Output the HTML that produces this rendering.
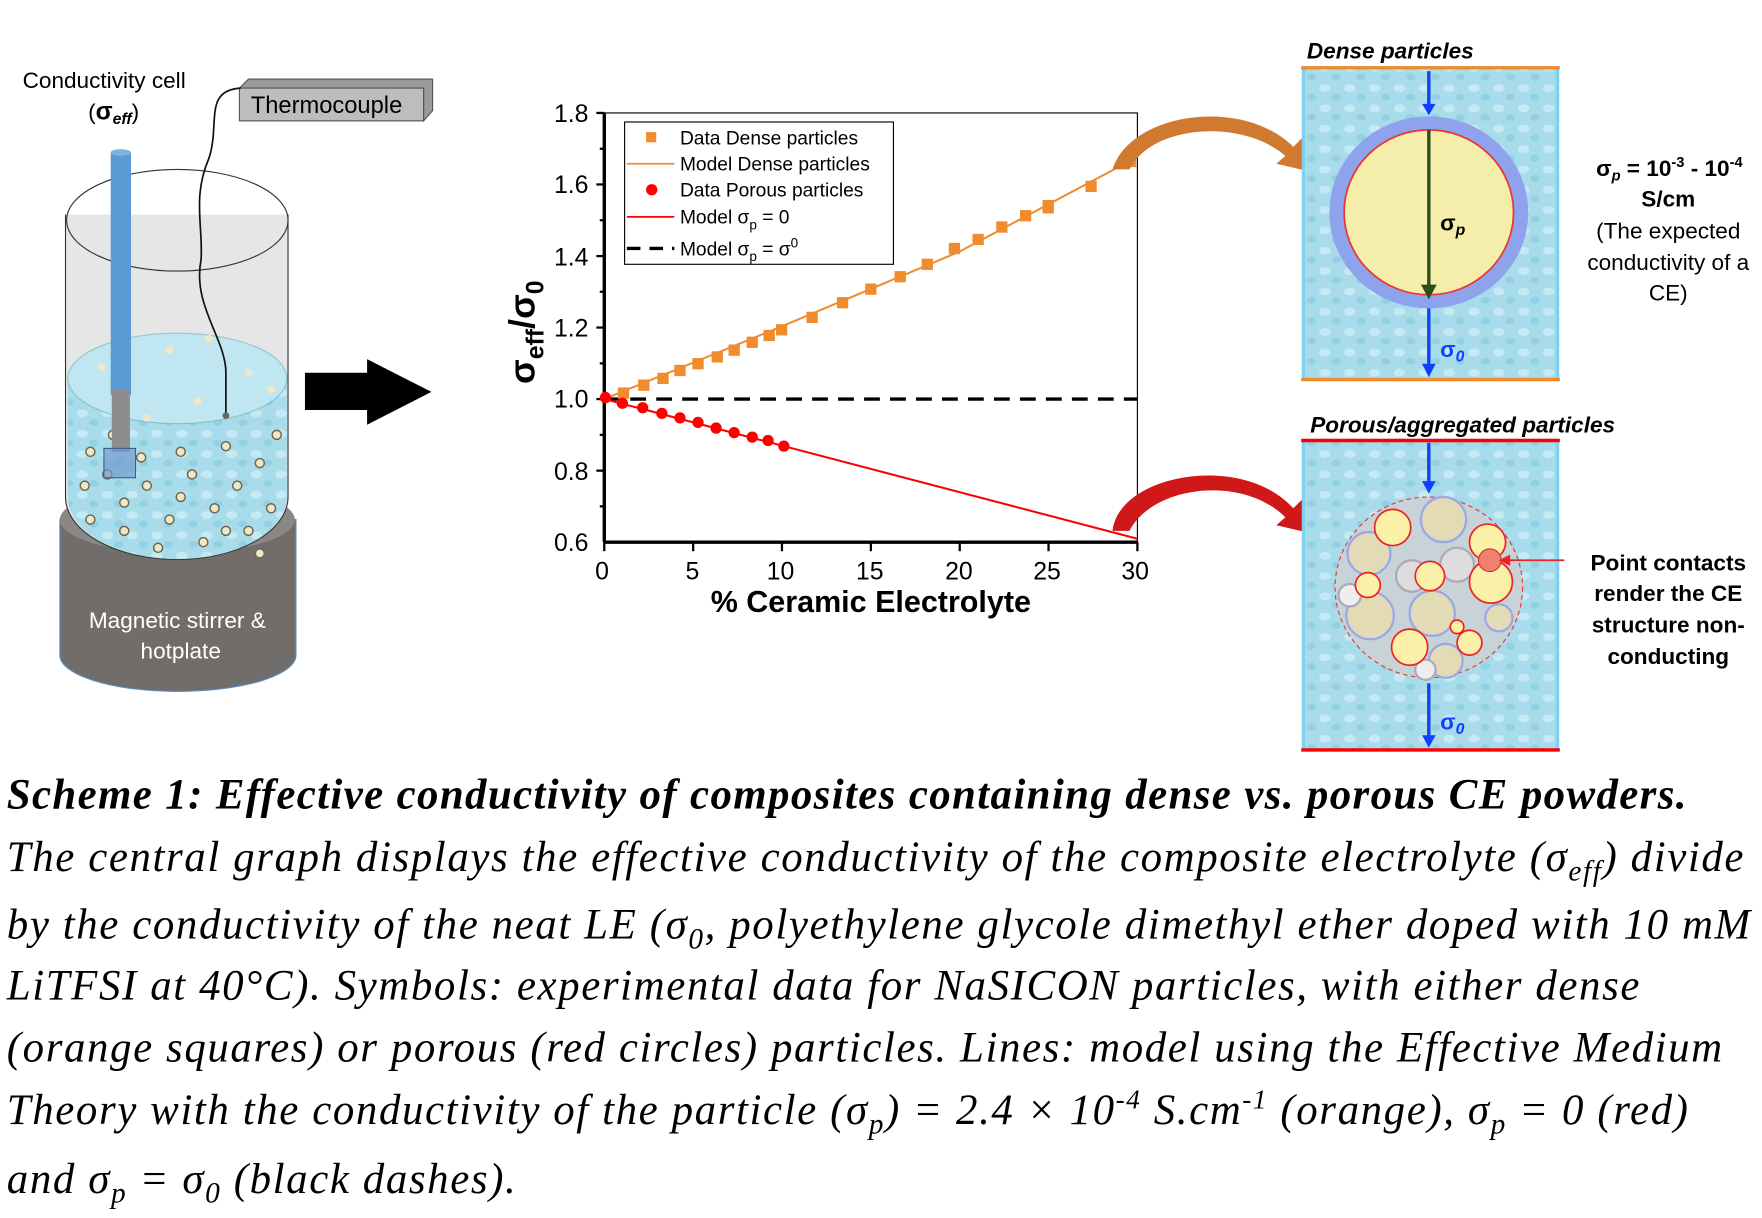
<!DOCTYPE html>
<html><head><meta charset="utf-8"><style>
html,body{margin:0;padding:0;background:#fff;width:1762px;height:1217px;overflow:hidden}
#w{position:absolute;left:0;top:0;width:1560px;height:1078px;transform:scale(1.1295);transform-origin:0 0}
svg text{font-family:"Liberation Sans",sans-serif}
.cap{position:absolute;left:6px;font-family:"Liberation Serif",serif;font-style:italic;font-size:38px;letter-spacing:1.4px;white-space:nowrap;color:#000}
</style></head><body><div id="w">
<svg width="1560" height="680" viewBox="0 0 1560 680" style="position:absolute;left:0;top:0">
<defs>
<pattern id="wat" width="22" height="18" patternUnits="userSpaceOnUse"><rect width="22" height="18" fill="#a9dcea"/><ellipse cx="7" cy="6" rx="5" ry="3.5" fill="#c6eaf3"/><ellipse cx="17" cy="14" rx="4" ry="3" fill="#92d0e2"/></pattern>
</defs>
<text x="20" y="78" font-size="20">Conductivity cell</text>
<text x="78" y="106" font-size="20">(<tspan font-weight="bold" font-size="22">σ</tspan><tspan font-size="14" font-style="italic" font-weight="bold" dy="4">eff</tspan><tspan dy="-4">)</tspan></text>
<polygon points="212,78 220,70 383,70 383,98 375,107 375,78" fill="#9a9a9a" stroke="#555"/>
<rect x="212" y="78" width="163" height="29" fill="#bdbdbd" stroke="#555"/>
<text x="222" y="100" font-size="21">Thermocouple</text>
<path d="M53,460 L53,580 A104,32 0 0 0 262,580 L262,460 Z" fill="#716d6b" stroke="#5a8fc0"/>
<ellipse cx="157" cy="460" rx="104" ry="30" fill="#8a8886"/>
<path d="M58,190 L58,440 A98,55 0 0 0 255,440 L255,190" fill="#e6e6e6" stroke="#333"/>
<path d="M60,335 L60,440 A97,55 0 0 0 254,440 L254,335 Z" fill="url(#wat)"/>
<ellipse cx="157" cy="335" rx="97" ry="40" fill="#bfe6f1" stroke="#5aa" stroke-opacity=".5"/>
<ellipse cx="157" cy="195" rx="98" ry="45" fill="none" stroke="#333"/>
<g fill="#efe8c8" stroke="#6d6650" stroke-width="1.3">
<circle cx="80" cy="400" r="4"/><circle cx="95" cy="420" r="4"/><circle cx="110" cy="445" r="4"/><circle cx="130" cy="430" r="4"/><circle cx="150" cy="460" r="4"/><circle cx="170" cy="420" r="4"/><circle cx="190" cy="450" r="4"/><circle cx="210" cy="430" r="4"/><circle cx="230" cy="410" r="4"/><circle cx="240" cy="450" r="4"/><circle cx="180" cy="480" r="4"/><circle cx="140" cy="485" r="4"/><circle cx="110" cy="470" r="4"/><circle cx="80" cy="460" r="4"/><circle cx="220" cy="470" r="4"/><circle cx="160" cy="400" r="4"/><circle cx="200" cy="395" r="4"/><circle cx="245" cy="385" r="4"/><circle cx="75" cy="430" r="4"/><circle cx="125" cy="405" r="4"/><circle cx="160" cy="440" r="4"/><circle cx="200" cy="470" r="4"/><circle cx="100" cy="385" r="4"/><circle cx="230" cy="490" r="4"/>
<circle cx="150" cy="310" r="3.5" stroke="none"/><circle cx="185" cy="300" r="3.5" stroke="none"/><circle cx="220" cy="330" r="3.5" stroke="none"/><circle cx="90" cy="325" r="3.5" stroke="none"/><circle cx="175" cy="355" r="3.5" stroke="none"/><circle cx="130" cy="370" r="3.5" stroke="none"/><circle cx="240" cy="345" r="3.5" stroke="none"/>
</g>
<rect x="98" y="135" width="18" height="215" fill="#5b9bd5"/><ellipse cx="107" cy="135" rx="9" ry="3" fill="#7fb2e0"/>
<rect x="99" y="345" width="16" height="55" fill="#8c8c8c"/>
<rect x="92" y="397" width="28" height="26" fill="#6f99cc" fill-opacity=".7" stroke="#3a5f8f"/>
<path d="M213,78 C180,80 195,110 185,140 C170,175 180,200 178,230 C170,270 200,300 200,330 L200,368" fill="none" stroke="#111" stroke-width="1.5"/>
<circle cx="200" cy="368" r="3" fill="#666"/>
<text x="157" y="556" font-size="20" fill="#fff" text-anchor="middle">Magnetic stirrer &amp;</text>
<text x="160" y="583" font-size="20" fill="#fff" text-anchor="middle">hotplate</text>
<polygon points="270,330 325,330 325,318 382,347 325,376 325,363 270,363" fill="#000"/>
<g font-size="22">
<rect x="535" y="100" width="472" height="380" fill="none" stroke="#000" stroke-width="1"/>
<line x1="535" y1="100" x2="535" y2="480" stroke="#000" stroke-width="3"/>
<line x1="535" y1="480" x2="1007" y2="480" stroke="#000" stroke-width="3"/>
<g stroke="#000" stroke-width="2">
<line x1="528" y1="100" x2="535" y2="100"/><line x1="528" y1="163.3" x2="535" y2="163.3"/><line x1="528" y1="226.7" x2="535" y2="226.7"/><line x1="528" y1="290" x2="535" y2="290"/><line x1="528" y1="353.3" x2="535" y2="353.3"/><line x1="528" y1="416.7" x2="535" y2="416.7"/>
<line x1="531" y1="131.7" x2="535" y2="131.7"/><line x1="531" y1="195" x2="535" y2="195"/><line x1="531" y1="258.3" x2="535" y2="258.3"/><line x1="531" y1="321.7" x2="535" y2="321.7"/><line x1="531" y1="385" x2="535" y2="385"/><line x1="531" y1="448.3" x2="535" y2="448.3"/>
<line x1="535" y1="480" x2="535" y2="488"/><line x1="613.7" y1="480" x2="613.7" y2="488"/><line x1="692.3" y1="480" x2="692.3" y2="488"/><line x1="771" y1="480" x2="771" y2="488"/><line x1="849.7" y1="480" x2="849.7" y2="488"/><line x1="928.3" y1="480" x2="928.3" y2="488"/><line x1="1007" y1="480" x2="1007" y2="488"/>
</g>
<g text-anchor="end"><text x="521" y="108">1.8</text><text x="521" y="171">1.6</text><text x="521" y="235">1.4</text><text x="521" y="298">1.2</text><text x="521" y="361">1.0</text><text x="521" y="425">0.8</text><text x="521" y="488">0.6</text></g>
<g text-anchor="middle"><text x="533" y="513">0</text><text x="613" y="513">5</text><text x="691" y="513">10</text><text x="770" y="513">15</text><text x="849" y="513">20</text><text x="927" y="513">25</text><text x="1005" y="513">30</text></g>
<text x="771" y="542" font-size="27" font-weight="bold" text-anchor="middle">% Ceramic Electrolyte</text>
<text transform="translate(473,340) rotate(-90)" font-size="32" font-weight="bold">σ<tspan font-size="22" dy="8">eff</tspan><tspan dy="-8">/σ</tspan><tspan font-size="22" dy="8">0</tspan></text>
<line x1="535" y1="353.3" x2="1007" y2="353.3" stroke="#000" stroke-width="3" stroke-dasharray="14,9"/>
<polyline points="535,353.3 692,289 849,223 1007,139" fill="none" stroke="#f08c2e" stroke-width="1.8"/>
<line x1="535" y1="353.3" x2="1007" y2="477" stroke="#f00" stroke-width="1.8"/>
<g fill="#f08c2e">
<rect x="547" y="343" width="10" height="10"/><rect x="565" y="336" width="10" height="10"/><rect x="582" y="330" width="10" height="10"/><rect x="597" y="323" width="10" height="10"/><rect x="613" y="317" width="10" height="10"/><rect x="630" y="311" width="10" height="10"/><rect x="645" y="305" width="10" height="10"/><rect x="661" y="298" width="10" height="10"/><rect x="676" y="292" width="10" height="10"/><rect x="687" y="287" width="10" height="10"/><rect x="714" y="276" width="10" height="10"/><rect x="741" y="263" width="10" height="10"/><rect x="766" y="251" width="10" height="10"/><rect x="792" y="240" width="10" height="10"/><rect x="816" y="229" width="10" height="10"/><rect x="840" y="215" width="10" height="10"/><rect x="861" y="207" width="10" height="10"/><rect x="882" y="196" width="10" height="10"/><rect x="903" y="186" width="10" height="10"/><rect x="923" y="177" width="10" height="12"/><rect x="961" y="160" width="10" height="10"/><rect x="996" y="138" width="10" height="10"/>
</g>
<g fill="#f00">
<circle cx="536" cy="352" r="5"/><circle cx="551" cy="357" r="5"/><circle cx="569" cy="361" r="5"/><circle cx="586" cy="366" r="5"/><circle cx="602" cy="370" r="5"/><circle cx="618" cy="374" r="5"/><circle cx="634" cy="379" r="5"/><circle cx="650" cy="383" r="5"/><circle cx="666" cy="387" r="5"/><circle cx="680" cy="390" r="5"/><circle cx="694" cy="395" r="5"/>
</g>
<rect x="553" y="108" width="238" height="126" fill="#fff" stroke="#000"/>
<g font-size="17">
<rect x="572" y="117" width="9" height="9" fill="#f08c2e"/><text x="602" y="128">Data Dense particles</text>
<line x1="555" y1="145" x2="597" y2="145" stroke="#f08c2e" stroke-width="1.5"/><text x="602" y="151">Model Dense particles</text>
<circle cx="577" cy="168" r="5" fill="#f00"/><text x="602" y="174">Data Porous particles</text>
<line x1="555" y1="192" x2="597" y2="192" stroke="#f00" stroke-width="1.5"/><text x="602" y="198">Model σ<tspan font-size="12" dy="5">p</tspan><tspan dy="-5">  = 0</tspan></text>
<line x1="555" y1="220" x2="597" y2="220" stroke="#000" stroke-width="3" stroke-dasharray="12,8"/><text x="602" y="226">Model σ<tspan font-size="12" dy="5">p</tspan><tspan dy="-5"> = σ</tspan><tspan font-size="12" dy="-7">0</tspan></text>
</g>
</g>
<path d="M985,150 C1000,100 1100,85 1145,130 L1155,120 L1160,152 L1130,145 L1138,138 C1100,105 1020,110 1000,150 Z" fill="#d07a30"/>
<path d="M985,470 C990,420 1100,400 1145,450 L1155,440 L1160,472 L1130,465 L1138,458 C1100,420 1020,430 1000,470 Z" fill="#d01818"/>
<text x="1157" y="52" font-size="20" font-weight="bold" font-style="italic">Dense particles</text>
<rect x="1154" y="60" width="225" height="276" fill="url(#wat)" stroke="#7fd0f2" stroke-width="3"/>
<line x1="1152" y1="60" x2="1381" y2="60" stroke="#f08c2e" stroke-width="3"/>
<line x1="1152" y1="336" x2="1381" y2="336" stroke="#f08c2e" stroke-width="3"/>
<ellipse cx="1265" cy="188" rx="88" ry="85" fill="#8fa2ec"/>
<ellipse cx="1265" cy="188" rx="75" ry="73" fill="#f5eeaa" stroke="#e33" stroke-width="1.5"/>
<line x1="1265" y1="63" x2="1265" y2="95" stroke="#1040ff" stroke-width="3"/><polygon points="1259,92 1271,92 1265,102" fill="#1040ff"/>
<line x1="1265" y1="115" x2="1265" y2="255" stroke="#2d4d1a" stroke-width="3"/><polygon points="1258,252 1272,252 1265,265" fill="#2d4d1a"/>
<line x1="1265" y1="273" x2="1265" y2="325" stroke="#1040ff" stroke-width="3"/><polygon points="1259,322 1271,322 1265,334" fill="#1040ff"/>
<text x="1275" y="204" font-size="20" font-weight="bold">σ<tspan font-size="14" font-style="italic" dy="4">p</tspan></text>
<text x="1275" y="316" font-size="20" font-weight="bold" fill="#1040ff">σ<tspan font-size="14" font-style="italic" dy="4">0</tspan></text>
<g font-size="20" text-anchor="middle">
<text x="1478" y="156" font-weight="bold">σ<tspan font-size="13" font-style="italic" dy="4">p</tspan><tspan dy="-4"> = 10</tspan><tspan font-size="13" dy="-8">-3</tspan><tspan dy="8"> - 10</tspan><tspan font-size="13" dy="-8">-4</tspan></text>
<text x="1477" y="183" font-weight="bold">S/cm</text>
<text x="1477" y="211">(The expected</text>
<text x="1477" y="239">conductivity of a</text>
<text x="1477" y="266">CE)</text>
</g>
<text x="1160" y="383" font-size="20" font-weight="bold" font-style="italic">Porous/aggregated particles</text>
<rect x="1154" y="390" width="225" height="274" fill="url(#wat)" stroke="#7fd0f2" stroke-width="3"/>
<line x1="1152" y1="390" x2="1381" y2="390" stroke="#f00" stroke-width="3"/>
<line x1="1152" y1="664" x2="1381" y2="664" stroke="#f00" stroke-width="3"/>
<ellipse cx="1265" cy="520" rx="83" ry="80" fill="#c8d3d8" stroke="#e33" stroke-dasharray="4,3"/>
<g stroke="#9aa7e8" stroke-width="2">
<circle cx="1212" cy="490" r="19" fill="#e2dbb5"/><circle cx="1278" cy="460" r="20" fill="#e2dbb5"/><circle cx="1213" cy="545" r="21" fill="#e2dbb5"/><circle cx="1268" cy="543" r="20" fill="#e2dbb5"/><circle cx="1280" cy="585" r="15" fill="#e2dbb5"/><circle cx="1327" cy="547" r="12" fill="#e2dbb5"/>
<circle cx="1250" cy="510" r="14" fill="#ddd" stroke="#aab"/><circle cx="1290" cy="500" r="15" fill="#ddd" stroke="#aab"/><circle cx="1195" cy="527" r="10" fill="#eee" stroke="#aab"/><circle cx="1262" cy="593" r="9" fill="#eee" stroke="#aab"/>
</g>
<g fill="#fbf0a8" stroke="#e22" stroke-width="1.5">
<circle cx="1233" cy="467" r="16"/><circle cx="1266" cy="510" r="13"/><circle cx="1211" cy="518" r="11"/><circle cx="1317" cy="480" r="16"/><circle cx="1320" cy="515" r="19"/><circle cx="1248" cy="573" r="16"/><circle cx="1301" cy="569" r="11"/><circle cx="1290" cy="555" r="6"/>
</g>
<circle cx="1319" cy="496" r="10" fill="#f08070" stroke="#c33"/>
<line x1="1330" y1="496" x2="1385" y2="496" stroke="#e22" stroke-width="1.5"/><polygon points="1327,496 1337,491 1337,501" fill="#e22"/>
<line x1="1265" y1="392" x2="1265" y2="428" stroke="#1040ff" stroke-width="3"/><polygon points="1259,426 1271,426 1265,437" fill="#1040ff"/>
<line x1="1265" y1="605" x2="1265" y2="653" stroke="#1040ff" stroke-width="3"/><polygon points="1259,651 1271,651 1265,662" fill="#1040ff"/>
<text x="1275" y="646" font-size="20" font-weight="bold" fill="#1040ff">σ<tspan font-size="14" font-style="italic" dy="4">0</tspan></text>
<g font-size="20" font-weight="bold" text-anchor="middle">
<text x="1477" y="505">Point contacts</text><text x="1477" y="532">render the CE</text><text x="1477" y="560">structure non-</text><text x="1477" y="588">conducting</text>
</g>
</svg>
<div class="cap" style="top:682px;font-weight:bold;letter-spacing:1.2px">Scheme 1: Effective conductivity of composites containing dense vs. porous CE powders.</div>
<div class="cap" style="top:737px">The central graph displays the effective conductivity of the composite electrolyte (σ<sub style="font-size:26px">eff</sub>) divide</div>
<div class="cap" style="top:797px">by the conductivity of the neat LE (σ<sub style="font-size:26px">0</sub>, polyethylene glycole dimethyl ether doped with 10 mM</div>
<div class="cap" style="top:851px">LiTFSI at 40°C). Symbols: experimental data for NaSICON particles, with either dense</div>
<div class="cap" style="top:906px">(orange squares) or porous (red circles) particles. Lines: model using the Effective Medium</div>
<div class="cap" style="top:961px">Theory with the conductivity of the particle (σ<sub style="font-size:26px">p</sub>) = 2.4 × 10<sup style="font-size:24px">-4</sup> S.cm<sup style="font-size:24px">-1</sup> (orange), σ<sub style="font-size:26px">p</sub> = 0 (red)</div>
<div class="cap" style="top:1022px">and σ<sub style="font-size:26px">p</sub> = σ<sub style="font-size:26px">0</sub> (black dashes).</div>
</div></body></html>
